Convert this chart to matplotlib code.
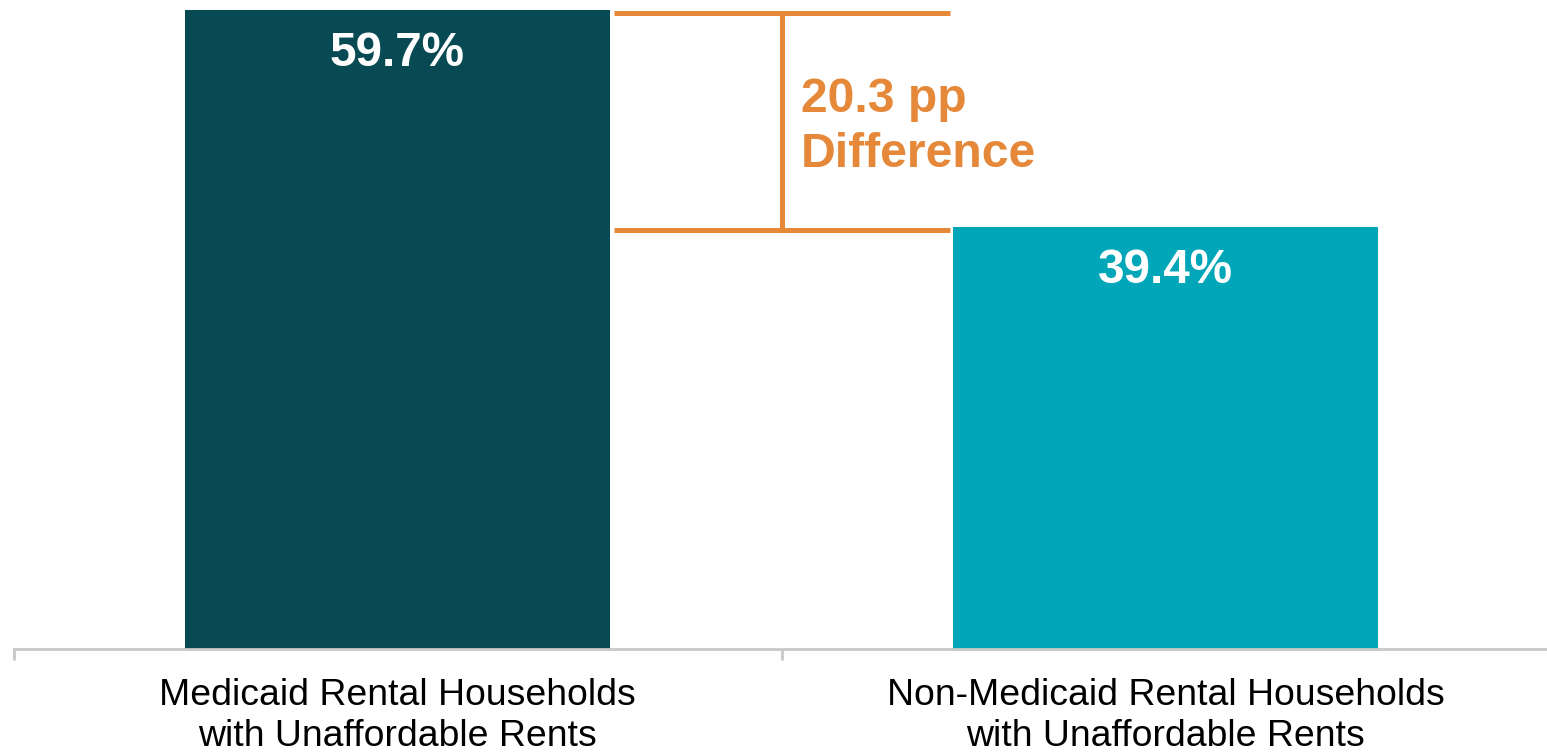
import matplotlib
matplotlib.use("Agg")
import matplotlib.pyplot as plt

# Share of rental households paying unaffordable rents (%)
categories = ["Medicaid Rental Households\nwith Unaffordable Rents",
              "Non-Medicaid Rental Households\nwith Unaffordable Rents"]
values = [59.7, 39.4]
bar_colors = ["#084A53", "#01A6B9"]
accent = "#E5883A"
axis_gray = "#C8C8C8"

plt.rcParams["font.family"] = ["Liberation Sans", "DejaVu Sans"]

fig = plt.figure(figsize=(15.47, 7.53), dpi=100)
ax = fig.add_axes([13.5 / 1547, 104 / 753, 1536 / 1547, 649 / 753])

x = list(range(len(categories)))
ax.bar(x, values, width=0.553, color=bar_colors, zorder=2)

ax.set_xlim(-0.5, len(categories) - 0.5)
ax.set_ylim(0, 60.65)

# Value labels inside the top of each bar
for xi, v in zip(x, values):
    ax.annotate(f"{v:.1f}%", xy=(xi, v), xytext=(0, -40), textcoords="offset points",
                ha="center", va="baseline", color="white", fontsize=34.3,
                fontweight="bold", zorder=3)

# Bracket showing the gap between the two groups
hi, lo = values[0], values[1]
off = 0.23
ax.hlines([hi - off, lo - off], 0.282, 0.719, color=accent, linewidth=3.6, zorder=3)
ax.vlines(0.5, lo - off, hi - off, color=accent, linewidth=3.6, zorder=3)
ax.text(0.525, (hi + lo) / 2 - 0.75, f"{hi - lo:.1f} pp\nDifference", ha="left", va="center",
        color=accent, fontsize=34.7, fontweight="bold", linespacing=1.28)

# Axes styling: only a light baseline with separators between categories
for side in ["top", "right", "left"]:
    ax.spines[side].set_visible(False)
ax.spines["bottom"].set_color(axis_gray)
ax.spines["bottom"].set_linewidth(2)
ax.spines["bottom"].set_zorder(4)
ax.set_yticks([])

ax.set_xticks(x)
ax.set_xticklabels(categories, fontsize=26.9, color="black", linespacing=1.2)
ax.tick_params(axis="x", which="major", length=0, pad=21)
ax.set_xticks([i - 0.5 for i in range(len(categories) + 1)], minor=True)
ax.tick_params(axis="x", which="minor", length=8, width=2, color=axis_gray)

fig.savefig("out.png", dpi=100)
